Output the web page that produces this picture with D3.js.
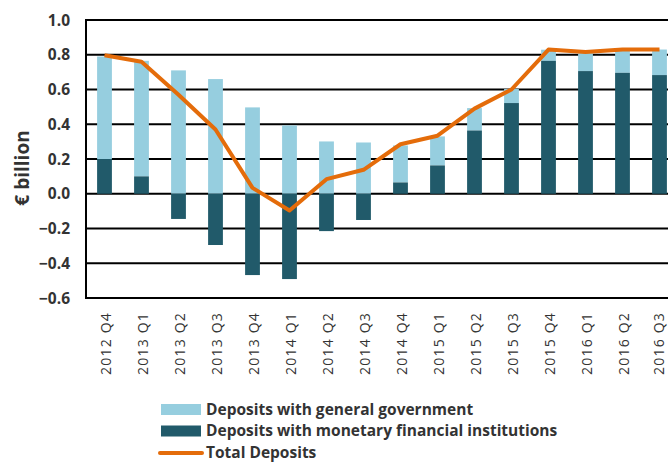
<!DOCTYPE html>
<html><head><meta charset="utf-8">
<script src="https://cdn.jsdelivr.net/npm/d3@7/dist/d3.min.js"></script>
<style>body{margin:0;background:#fff;}svg{display:block;font-family:"Open Sans",sans-serif;}</style>
</head><body><svg id="c" width="668" height="464"></svg>
<script>
const categories = ["2012 Q4","2013 Q1","2013 Q2","2013 Q3","2013 Q4","2014 Q1","2014 Q2","2014 Q3","2014 Q4","2015 Q1","2015 Q2","2015 Q3","2015 Q4","2016 Q1","2016 Q2","2016 Q3"];
const govDeposits = [0.59,0.665,0.71,0.66,0.497,0.393,0.301,0.295,0.213,0.167,0.129,0.081,0.064,0.104,0.133,0.147];
const mfiDeposits = [0.20,0.10,-0.145,-0.295,-0.468,-0.491,-0.215,-0.151,0.065,0.163,0.364,0.522,0.765,0.706,0.696,0.683];
const totalDeposits = [0.797,0.76,0.57,0.37,0.034,-0.096,0.084,0.138,0.285,0.334,0.49,0.60,0.83,0.816,0.83,0.83];
const yTicks = [-0.6,-0.4,-0.2,0.0,0.2,0.4,0.6,0.8,1.0];
const seriesNames = ["Deposits with general government","Deposits with monetary financial institutions","Total Deposits"];

const colGov = "#96cedf", colMfi = "#215a6a", colTot = "#e46c0a";
const svg = d3.select("#c");
const L = 86, R = 678, T = 20, B = 298;
const x = d3.scaleBand().domain(categories).range([L, R]).paddingInner(0.6).paddingOuter(0.3);
const y = d3.scaleLinear().domain([-0.6, 1.0]).range([B, T]);

// gridlines
svg.append("g").selectAll("line").data(yTicks).join("line")
  .attr("x1", L).attr("x2", 668).attr("y1", d => y(d)).attr("y2", d => y(d))
  .attr("stroke", "#000").attr("stroke-width", 2);
svg.append("line").attr("x1", L).attr("x2", L).attr("y1", T - 1).attr("y2", B + 1)
  .attr("stroke", "#000").attr("stroke-width", 2);

// y tick labels
svg.append("g").selectAll("text").data(yTicks).join("text")
  .attr("x", 70).attr("y", d => y(d)).attr("dy", "0.36em").attr("text-anchor", "end")
  .attr("font-size", 15.5).attr("font-weight", "bold").attr("fill", "#333")
  .text(d => d3.format(".1f")(d));

// y axis title
svg.append("text").attr("transform", "translate(29,168) rotate(-90)")
  .attr("text-anchor", "middle").attr("font-size", 19).attr("font-weight", "bold").attr("fill", "#333")
  .text("€ billion");

// bars
const bw = x.bandwidth();
const g = svg.append("g");
categories.forEach((c, i) => {
  const m = mfiDeposits[i], gv = govDeposits[i];
  const base = m > 0 ? m : 0;
  g.append("rect").attr("x", x(c)).attr("width", bw)
    .attr("y", y(base + gv)).attr("height", y(base) - y(base + gv)).attr("fill", colGov);
  g.append("rect").attr("x", x(c)).attr("width", bw)
    .attr("y", y(Math.max(0, m))).attr("height", Math.abs(y(m) - y(0))).attr("fill", colMfi);
});

// total line
const line = d3.line().x((d, i) => x(categories[i]) + bw / 2).y(d => y(d));
svg.append("path").datum(totalDeposits).attr("d", line).attr("fill", "none")
  .attr("stroke", colTot).attr("stroke-width", 4).attr("stroke-linejoin", "round");

// x labels
svg.append("g").selectAll("text").data(categories).join("text")
  .attr("transform", d => `translate(${Math.min(x(d) + bw / 2 + 1, 659)},312) rotate(-90)`)
  .attr("text-anchor", "end").attr("dy", "0.36em").attr("font-size", 14)
  .attr("letter-spacing", 1.2).attr("fill", "#333")
  .text(d => d);

// legend
const lg = svg.append("g");
const rows = [409, 430.5, 452];
lg.append("rect").attr("x", 161).attr("y", rows[0] - 5).attr("width", 40).attr("height", 11).attr("fill", colGov);
lg.append("rect").attr("x", 161).attr("y", rows[1] - 5).attr("width", 40).attr("height", 11).attr("fill", colMfi);
lg.append("line").attr("x1", 160).attr("x2", 202).attr("y1", rows[2] + 1).attr("y2", rows[2] + 1)
  .attr("stroke", colTot).attr("stroke-width", 4).attr("stroke-linecap", "round");
lg.selectAll("text").data(seriesNames).join("text")
  .attr("x", 206).attr("y", (d, i) => rows[i]).attr("dy", "0.36em")
  .attr("font-size", 15.5).attr("font-weight", "bold").attr("fill", "#333").text(d => d);
</script></body></html>
